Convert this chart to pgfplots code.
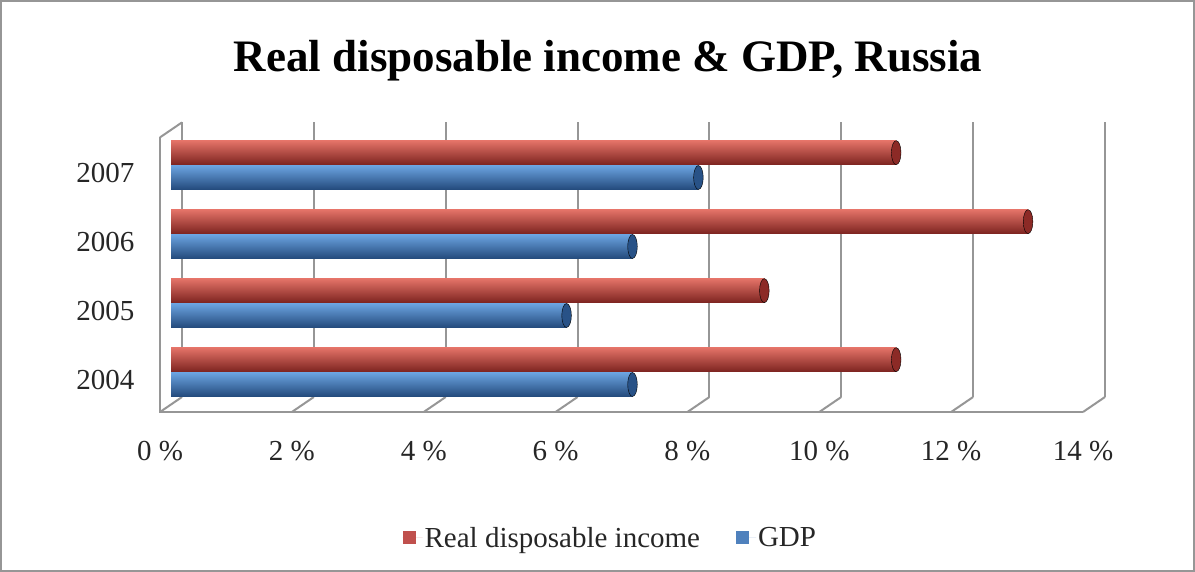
\documentclass[border=0pt]{standalone}
\usepackage{fontspec}
\setmainfont{Liberation Serif}
\usepackage{pgfplots}
\usepackage{pgfplotstable}
\pgfplotsset{compat=1.18}
\definecolor{rdi}{RGB}{192,80,77}
\definecolor{gdp}{RGB}{79,129,189}
\definecolor{rdiT}{RGB}{228,115,104}
\definecolor{rdiM}{RGB}{210,88,78}
\definecolor{rdiB}{RGB}{125,36,32}
\definecolor{rdiC}{RGB}{140,42,38}
\definecolor{gdpT}{RGB}{108,164,225}
\definecolor{gdpM}{RGB}{80,140,210}
\definecolor{gdpB}{RGB}{36,74,124}
\definecolor{gdpC}{RGB}{40,82,135}
\definecolor{gridc}{RGB}{150,150,150}
\definecolor{framec}{RGB}{150,150,150}

% Real disposable income (x = %, y = category position + shift)
\pgfplotstableread{
x y
11 0.18
9 1.18
13 2.18
11 3.18
}\rdidata
% GDP
\pgfplotstableread{
x y
7 -0.18
6 0.82
7 1.82
8 2.82
}\gdpdata

\pgfplotsset{
 rdibar/.style={xbar, bar width=24pt, bar shift=0pt, draw=none,
   top color=rdiT, middle color=rdiM, bottom color=rdiB, forget plot},
 gdpbar/.style={xbar, bar width=24pt, bar shift=0pt, draw=none,
   top color=gdpT, middle color=gdpM, bottom color=gdpB, forget plot},
}

\begin{document}
\begin{tikzpicture}[x=1pt,y=1pt]
\useasboundingbox (0,0) rectangle (1195,572);
\draw[framec, line width=1.5pt] (1,1) rectangle (1194,571);
\node[font=\fontsize{45}{50}\selectfont\bfseries, anchor=base] at (608,500) {Real disposable income \& GDP, Russia};

\begin{axis}[
 at={(171pt,167.5pt)}, anchor=south west,
 scale only axis, width=923pt, height=274.6pt,
 xmin=0, xmax=14, ymin=-0.47, ymax=3.51,
 axis line style={draw=none}, tick style={draw=none},
 clip=false,
 xtick={0,2,4,6,8,10,12,14},
 xticklabels={0 \%,2 \%,4 \%,6 \%,8 \%,10 \%,12 \%,14 \%},
 ytick={0,1,2,3},
 yticklabels={2004,2005,2006,2007},
 xticklabel style={font=\fontsize{29}{32}\selectfont, text=black!85, yshift=-33pt, xshift=-11pt},
 yticklabel style={font=\fontsize{29}{32}\selectfont, text=black!85, xshift=-33pt, yshift=-8pt},
 legend style={at={(0.476,-0.486)}, anchor=center, draw=none, fill=none,
   font=\fontsize{29}{32}\selectfont, text=black!85,
   /tikz/every even column/.append style={column sep=34pt}},
 legend columns=2,
 legend image code/.code={\fill[#1] (0pt,-6.5pt) rectangle (13pt,6.5pt); \path (0pt,0pt) -- (20pt,0pt);},
]
% 3D walls
\pgfplotsinvokeforeach{0,2,4,6,8,10,12,14}{
  \draw[gridc, line width=2pt] ([shift={(11pt,7.5pt)}]axis cs:#1,-0.47) -- ([shift={(11pt,7.5pt)}]axis cs:#1,3.51);
  \draw[gridc, line width=2pt] ([shift={(-11pt,-7.5pt)}]axis cs:#1,-0.47) -- ([shift={(11pt,7.5pt)}]axis cs:#1,-0.47);
}
\draw[gridc, line width=2pt] ([shift={(-11pt,-7.5pt)}]axis cs:0,3.51) -- ([shift={(-11pt,-7.5pt)}]axis cs:0,-0.47) -- ([shift={(-11pt,-7.5pt)}]axis cs:14,-0.47);
\draw[gridc, line width=2pt] ([shift={(-11pt,-7.5pt)}]axis cs:0,3.51) -- ([shift={(11pt,7.5pt)}]axis cs:0,3.51);

% bars
\addplot[rdibar] coordinates {(11,0.18)};
\addplot[rdibar] coordinates {(9,1.18)};
\addplot[rdibar] coordinates {(13,2.18)};
\addplot[rdibar] coordinates {(11,3.18)};
\addplot[gdpbar] coordinates {(7,-0.18)};
\addplot[gdpbar] coordinates {(6,0.82)};
\addplot[gdpbar] coordinates {(7,1.82)};
\addplot[gdpbar] coordinates {(8,2.82)};
% cylinder end caps
\addplot[only marks, mark=*, mark size=12pt, mark options={xscale=0.4, fill=rdiC, draw=none}, forget plot] table[x=x,y=y]{\rdidata};
\addplot[only marks, mark=*, mark size=12pt, mark options={xscale=0.4, fill=gdpC, draw=none}, forget plot] table[x=x,y=y]{\gdpdata};

\addlegendimage{fill=rdi, draw=none}
\addlegendentry{Real disposable income}
\addlegendimage{fill=gdp, draw=none}
\addlegendentry{GDP}
\end{axis}
\end{tikzpicture}
\end{document}
